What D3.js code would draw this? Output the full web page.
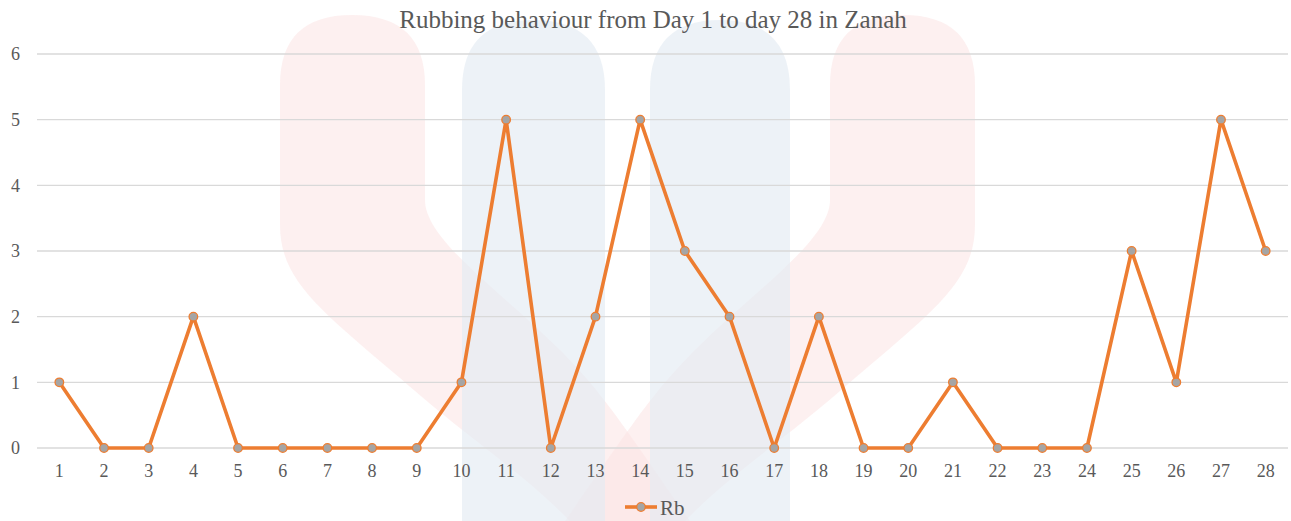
<!DOCTYPE html>
<html>
<head>
<meta charset="utf-8">
<script src="https://cdn.jsdelivr.net/npm/d3@7/dist/d3.min.js"></script>
<style>
  body { margin: 0; background: #fff; }
  svg text { font-family: "Liberation Serif", "Times New Roman", serif; fill: #595959; }
</style>
</head>
<body>
<div id="chart"></div>
<script>
// data
var days = ["1","2","3","4","5","6","7","8","9","10","11","12","13","14",
            "15","16","17","18","19","20","21","22","23","24","25","26","27","28"];
var rb = [1,0,0,2,0,0,0,0,0,1,5,0,2,5,3,2,0,2,0,0,1,0,0,0,3,1,5,3];
var yTicks = [0,1,2,3,4,5,6];
var title = "Rubbing behaviour from Day 1 to day 28 in Zanah";
var seriesName = "Rb";

var W = 1291, H = 521;
var margin = {top: 54, right: 3, bottom: 73, left: 37};
var width = W - margin.left - margin.right;
var height = H - margin.top - margin.bottom;

var svg = d3.select("#chart").append("svg")
    .attr("width", W)
    .attr("height", H);

/***** faint watermark in the background *****/
var wm = svg.append("g").attr("class", "watermark");
// left pink arm, bending down to the right
wm.append("path")
  .attr("d", "M280,85 Q280,15 352,15 Q425,15 425,85 L425,200 C425,240 500,290 560,350 " +
             "C600,390 620,420 690,521 L570,521 C520,470 470,440 400,378 C320,310 280,280 280,225 Z")
  .attr("fill", "#fbe3e3").attr("fill-opacity", 0.55);
// right pink arm, bending down to the left
wm.append("path")
  .attr("d", "M975,85 Q975,15 903,15 Q830,15 830,85 L830,200 C830,240 755,290 695,350 " +
             "C655,390 635,420 565,521 L685,521 C735,470 785,440 855,378 C935,310 975,280 975,225 Z")
  .attr("fill", "#fbe3e3").attr("fill-opacity", 0.55);
// blue bars
wm.append("path")
  .attr("d", "M462,90 Q462,20 533,20 Q605,20 605,90 L605,521 L462,521 Z")
  .attr("fill", "#e3ebf3").attr("fill-opacity", 0.65);
wm.append("path")
  .attr("d", "M650,90 Q650,20 720,20 Q790,20 790,90 L790,521 L650,521 Z")
  .attr("fill", "#e3ebf3").attr("fill-opacity", 0.65);

var g = svg.append("g")
    .attr("transform", "translate(" + margin.left + "," + margin.top + ")");

var x = d3.scaleBand().domain(days).range([0, width]);
var y = d3.scaleLinear().domain([0, 6]).range([height, 0]);

// gridlines
g.selectAll(".grid")
 .data(yTicks)
 .enter()
 .append("line")
 .attr("x1", 0)
 .attr("x2", width)
 .attr("y1", function(d) { return y(d); })
 .attr("y2", function(d) { return y(d); })
 .attr("stroke", "#d9d9d9")
 .attr("stroke-width", 1.3);

// y axis labels
var yAxis = g.append("g")
 .call(d3.axisLeft(y).tickValues(yTicks).tickSize(0).tickPadding(17).tickFormat(d3.format("d")));
yAxis.select(".domain").remove();
yAxis.selectAll("text").style("font-size", "18px").style("fill", "#595959");

// x axis labels
var xAxis = g.append("g")
 .attr("transform", "translate(0," + height + ")")
 .call(d3.axisBottom(x).tickSize(0).tickPadding(16));
xAxis.select(".domain").remove();
xAxis.selectAll("text").style("font-size", "18px").style("fill", "#595959");

// line
var line = d3.line()
    .x(function(d, i) { return x(days[i]) + x.bandwidth() / 2; })
    .y(function(d) { return y(d); });

g.append("path")
 .datum(rb)
 .attr("d", line)
 .attr("fill", "none")
 .attr("stroke", "#ED7D31")
 .attr("stroke-width", 3.6)
 .attr("stroke-linejoin", "round")
 .attr("stroke-linecap", "round");

g.selectAll(".dot")
 .data(rb)
 .enter()
 .append("circle")
 .attr("cx", function(d, i) { return x(days[i]) + x.bandwidth() / 2; })
 .attr("cy", function(d) { return y(d); })
 .attr("r", 4.3)
 .attr("fill", "#A5A5A5")
 .attr("stroke", "#ED7D31")
 .attr("stroke-width", 1.3);

// title
svg.append("text")
   .attr("x", 653)
   .attr("y", 28)
   .attr("text-anchor", "middle")
   .style("font-size", "25px")
   .text(title);

// legend
var legend = svg.append("g").attr("transform", "translate(625,507)");
legend.append("line")
      .attr("x1", 0).attr("x2", 32).attr("y1", 0).attr("y2", 0)
      .attr("stroke", "#ED7D31").attr("stroke-width", 3.6);
legend.append("circle")
      .attr("cx", 16).attr("cy", 0).attr("r", 4.3)
      .attr("fill", "#A5A5A5").attr("stroke", "#ED7D31").attr("stroke-width", 1.3);
legend.append("text")
      .attr("x", 35).attr("y", 8)
      .style("font-size", "21px")
      .text(seriesName);
</script>
</body>
</html>
